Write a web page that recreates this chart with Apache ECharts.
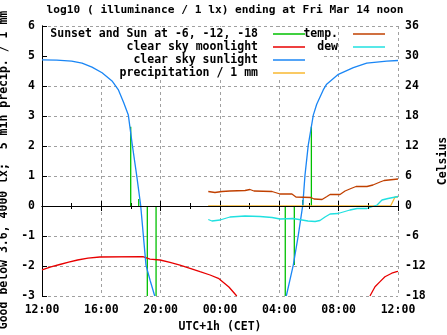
<!DOCTYPE html>
<html><head><meta charset="utf-8">
<script src="https://cdn.jsdelivr.net/npm/echarts@6/dist/echarts.min.js"></script>
<style>html,body{margin:0;padding:0;background:#fff}#c{width:447px;height:335px}</style>
</head><body><div id="c"></div>
<script>
// ---- data (hours after 12:00) ----
const tickLabels = ['12:00','16:00','20:00','00:00','04:00','08:00','12:00'];

const sunT1 = [0, 1, 2, 2.7, 3.37, 4.05, 4.72, 5.14, 5.51, 5.82, 6.09, 6.38, 6.65, 6.83, 7.01, 7.3, 7.6];
const sunV1 = [4.87, 4.86, 4.83, 4.76, 4.63, 4.44, 4.17, 3.88, 3.44, 3.03, 2.03, 1.03, 0.03, -0.97, -1.97, -2.5, -3.0];
const sunT2 = [16.47, 16.94, 17.28, 17.58, 17.73, 17.95, 18.29, 18.52, 18.96, 19.19, 19.98, 20.99, 21.89, 23.24, 24];
const sunV2 = [-3.0, -1.97, -0.97, 0.03, 1.03, 2.03, 3.03, 3.39, 3.87, 4.06, 4.39, 4.61, 4.76, 4.83, 4.85];

const moonT1 = [0, 0.6, 1.2, 1.8, 2.4, 3.1, 3.9, 6.8, 7.28, 7.96, 8.63, 9.30, 9.98, 10.65, 11.33, 11.89, 12.0, 12.6, 13.13];
const moonV1 = [-2.13, -2.03, -1.95, -1.87, -1.8, -1.74, -1.7, -1.69, -1.77, -1.8, -1.88, -1.97, -2.08, -2.19, -2.3, -2.41, -2.47, -2.7, -3.0];
const moonT2 = [22.11, 22.45, 22.79, 23.12, 23.58, 23.91, 24];
const moonV2 = [-3.0, -2.69, -2.52, -2.36, -2.24, -2.19, -2.18];

const sunEventT = [5.98, 6.52, 7.10, 7.69, 16.40, 17.01, 17.58, 18.16];
const sunEventV = [2.64, 0.23, -3, -3, -3, -1.97, 0.2, 2.64];

const precipT = [11.2, 23.5, 23.6, 23.8, 24];
const precipV = [0, 0, 0.1, 0.3, 0.3];

const tempT = [11.21, 11.66, 12.13, 12.67, 13.69, 14.02, 14.29, 15.51, 16.05, 16.85, 17.12, 18.13, 18.34, 18.88, 19.21, 19.42, 20.09, 20.43, 20.83, 21.17, 21.91, 22.31, 22.79, 23.06, 24];
const tempV = [2.9, 2.7, 2.9, 3.0, 3.1, 3.3, 3.0, 2.9, 2.4, 2.4, 1.8, 1.7, 1.4, 1.3, 1.9, 2.3, 2.3, 3.0, 3.5, 3.9, 3.9, 4.2, 4.8, 5.1, 5.4];

const dewT = [11.21, 11.46, 12.0, 12.67, 13.69, 14.70, 15.51, 16.05, 16.92, 17.53, 17.93, 18.41, 18.74, 19.08, 19.42, 19.96, 20.76, 21.24, 21.91, 22.59, 22.92, 23.33, 24];
const dewV = [-2.7, -3.0, -2.8, -2.2, -2.0, -2.1, -2.3, -2.6, -2.5, -2.8, -3.0, -3.1, -2.9, -2.2, -1.6, -1.5, -0.8, -0.5, -0.5, 0.2, 1.2, 1.5, 1.9];

// ---- chart ----
const F = 'DejaVu Sans Mono';
const zip = (a, b) => a.map((t, i) => [t, b[i]]);
const N_SUN = 'Sunset and Sun at -6, -12, -18';
const N_MOON = 'clear sky moonlight';
const N_SUNL = 'clear sky sunlight';
const N_PREC = 'precipitation / 1 mm';
const N_TEMP = 'temp.';
const N_DEW = 'dew';
const C = {sun:'#00c000', moon:'#e80000', sunl:'#1a86f5', prec:'#f8b830', temp:'#c04000', dew:'#20e0e0'};

function lineSeries(name, data, color, yIdx) {
  return {type:'line', name, data, yAxisIndex: yIdx || 0, xAxisIndex: 0, showSymbol:false, symbol:'none',
    lineStyle:{color, width:1.3}, itemStyle:{color}, animation:false, clip:true, z:2};
}
const series = [];
sunEventT.forEach((t, i) => series.push(lineSeries(N_SUN, [[t, 0], [t, sunEventV[i]]], C.sun)));
series.push(lineSeries(N_MOON, zip(moonT1, moonV1), C.moon));
series.push(lineSeries(N_MOON, zip(moonT2, moonV2), C.moon));
series.push(lineSeries(N_SUNL, zip(sunT1, sunV1), C.sunl));
series.push(lineSeries(N_SUNL, zip(sunT2, sunV2), C.sunl));
series.push(lineSeries(N_PREC, zip(precipT, precipV), C.prec));
series.push(lineSeries(N_TEMP, zip(tempT, tempV), C.temp, 1));
series.push(lineSeries(N_DEW, zip(dewT, dewV), C.dew, 1));

function leg(name, right, top) {
  return {data:[name], right, top, align:'right', orient:'horizontal', icon:'rect', itemWidth:32, itemHeight:1.5,
    padding:0, selectedMode:false, z:5,
    textStyle:{fontFamily:F, fontWeight:'bold', fontSize:11.5, color:'#000', padding:[0, 10, 0, 0]}};
}

const axisText = {fontFamily:F, fontWeight:'bold', fontSize:11.5, color:'#000'};
const option = {
  backgroundColor:'#fff',
  animation:false,
  title:{text:'log10 ( illuminance / 1 lx) ending at Fri Mar 14 noon', left:220, top:0, textAlign:'center',
    textStyle:{fontFamily:F, fontWeight:'bold', fontSize:11.2, color:'#000'}},
  grid:{left:42, right:49, top:26, bottom:39, outerBoundsMode:'none', containLabel:false},
  legend:[
    leg(N_SUN, 142, 28), leg(N_MOON, 142, 41), leg(N_SUNL, 142, 54), leg(N_PREC, 142, 67),
    leg(N_TEMP, 62, 28), leg(N_DEW, 62, 41)
  ],
  graphic:{elements:[{type:'rect', shape:{x:47, y:27, width:275, height:53}, style:{fill:'#fff'}, z:1, silent:true}]},
  xAxis:[
    {type:'value', min:0, max:24, interval:4, position:'bottom',
      name:'UTC+1h (CET)', nameLocation:'middle', nameGap:25, nameTextStyle:axisText,
      axisLine:{lineStyle:{color:'#000'}},
      axisTick:{inside:true, length:5, lineStyle:{color:'#000'}},
      minorTick:{show:true, splitNumber:2, length:3, lineStyle:{color:'#000'}},
      axisLabel:{...axisText, margin:8, formatter: v => tickLabels[Math.round(v / 4)]},
      splitLine:{show:true, lineStyle:{color:'#a0a0a0', type:[3, 3], width:1}}},
    {type:'value', min:0, max:24, interval:4, position:'top', z:3,
      axisLine:{lineStyle:{color:'#000'}},
      axisTick:{inside:true, length:5, lineStyle:{color:'#000'}},
      minorTick:{show:true, splitNumber:2, length:3, lineStyle:{color:'#000'}},
      axisLabel:{show:false}, splitLine:{show:false}}
  ],
  yAxis:[
    {type:'value', min:-3, max:6, interval:1, position:'left',
      name:'Good below 3.6, 4000 lx;  5 min precip. / 1 mm', nameLocation:'middle', nameGap:28,
      nameTextStyle:{...axisText, padding:[0, 18, 0, 0]},
      axisLine:{show:true, lineStyle:{color:'#000'}},
      axisTick:{show:true, inside:true, length:4, lineStyle:{color:'#000'}},
      axisLabel:{...axisText, margin:7},
      splitLine:{show:true, lineStyle:{color:'#a0a0a0', type:[3, 3], width:1}}},
    {type:'value', min:-18, max:36, interval:6, position:'right',
      name:'Celsius', nameLocation:'middle', nameGap:35, nameTextStyle:axisText,
      axisLine:{show:true, lineStyle:{color:'#000'}},
      axisTick:{show:true, inside:false, length:5, lineStyle:{color:'#000'}},
      axisLabel:{...axisText, margin:7},
      splitLine:{show:false}}
  ],
  series
};
const chart = echarts.init(document.getElementById('c'), null, {renderer:'canvas'});
chart.setOption(option);
</script></body></html>
